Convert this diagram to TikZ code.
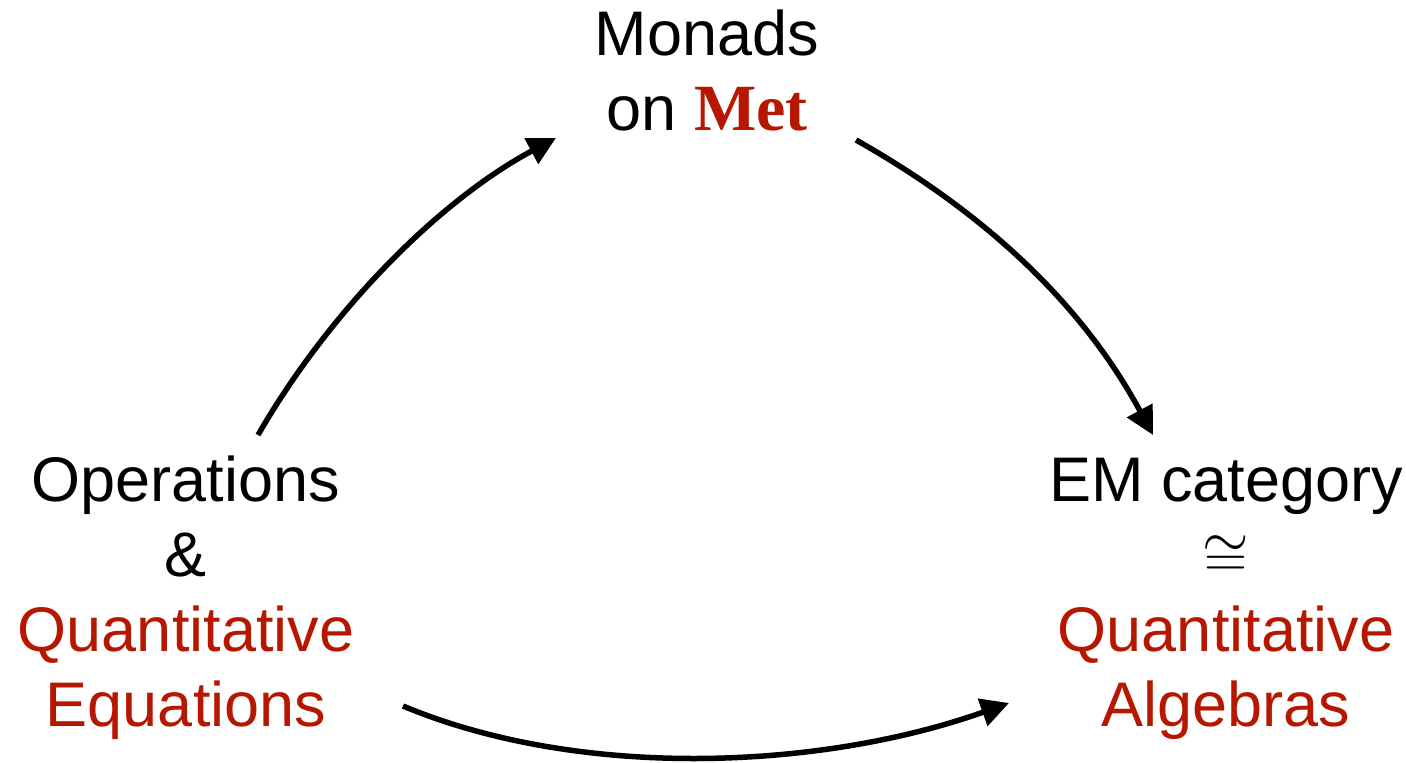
\documentclass[tikz,border=0pt]{standalone}
\usepackage{fontspec}
\setmainfont{Liberation Sans}
\newfontfamily\serifbold{Liberation Serif}
\usetikzlibrary{arrows.meta}
\definecolor{qred}{RGB}{181,23,0}
\begin{document}
\begin{tikzpicture}[x=1pt,y=-1pt,
  lbl/.style={align=center, inner sep=0pt, font=\fontsize{63}{75}\selectfont},
  arr/.style={line width=5.5pt, -{Triangle[length=28pt,width=28pt]}}]
\useasboundingbox (0,0) rectangle (1406,763);
\node[lbl, anchor=base] (mon) at (707,130) {Monads\\on \textcolor{qred}{\serifbold\bfseries\fontsize{66}{75}\selectfont Met}};
\node[lbl, anchor=base] (ops) at (186,726) {Operations\\\&\\\textcolor{qred}{Quantitative}\\\textcolor{qred}{Equations}};
\node[lbl, anchor=base] (em) at (1226,726) {EM category\\\scalebox{2.4}{$\cong$}\\\textcolor{qred}{Quantitative}\\\textcolor{qred}{Algebras}};
\coordinate (a1s) at (258,435);
\coordinate (a1e) at (556,138);
\coordinate (a2s) at (856,140);
\coordinate (a2e) at (1153,435);
\coordinate (a3s) at (403,706);
\coordinate (a3e) at (1009,703);
\draw[arr] (a1s) .. controls (330,310) and (440,200) .. (a1e);
\draw[arr] (a2s) .. controls (980,210) and (1080,300) .. (a2e);
\draw[arr] (a3s) .. controls (580,780) and (820,770) .. (a3e);
\end{tikzpicture}
\end{document}
